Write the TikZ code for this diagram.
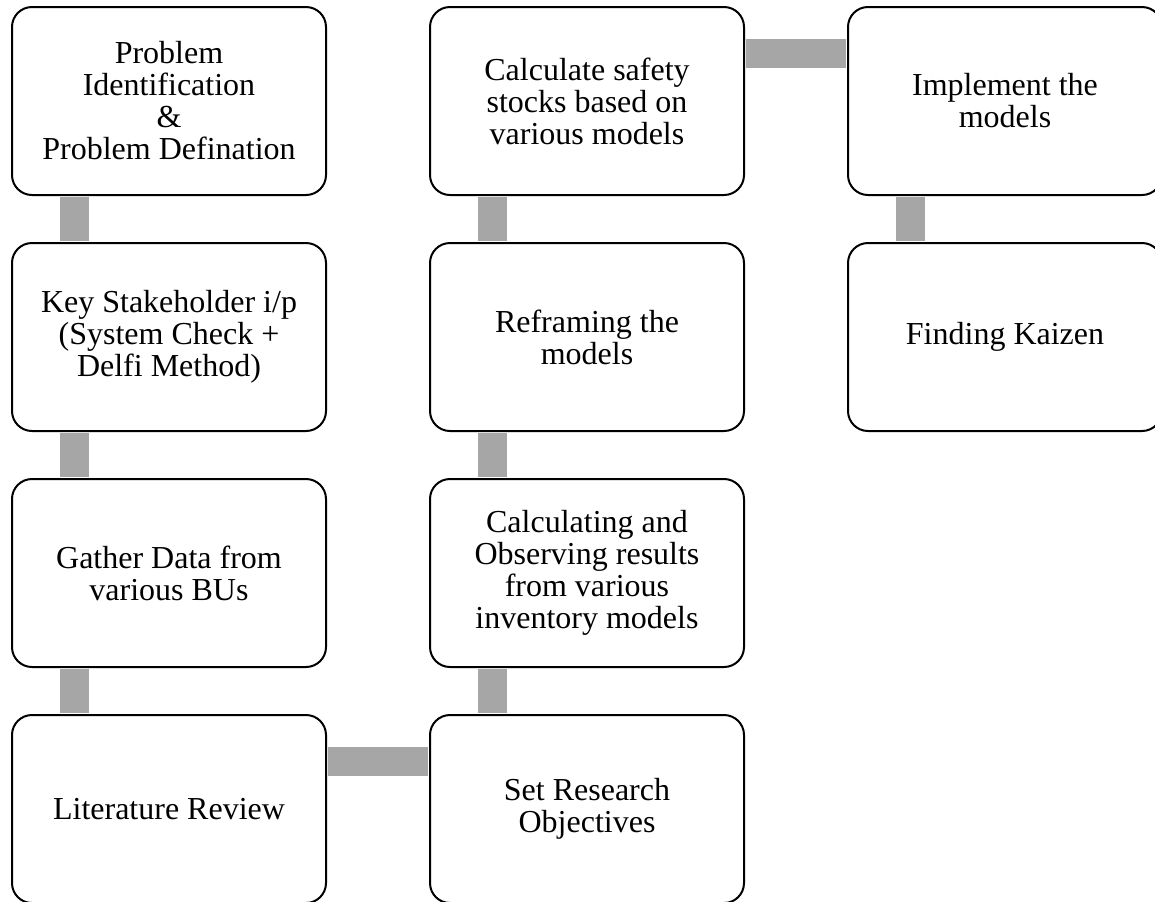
\documentclass[tikz,border=0pt]{standalone}
\usepackage{fontspec}
\setmainfont{Liberation Serif}
\usepackage{tikz}
\newcommand\pagewidth{577.5pt}
\newcommand\pageheight{450.5pt}
\newcommand\boxwidth{157pt}
\newcommand\boxheight{94pt}
\newcommand\colone{84.5pt}
\newcommand\coltwo{293.5pt}
\newcommand\colthree{502.5pt}
\newcommand\linkoffset{31.5pt}
\newcommand\linkdrop{23.5pt}
\definecolor{linkgray}{HTML}{A6A6A6}

\begin{document}
\begin{tikzpicture}[line width = 1pt,
	stepbox/.style = {draw, rounded corners = 10pt, fill = white, align = center, inner sep = 0pt,
		minimum width = \boxwidth, minimum height = \boxheight,
		font = \fontsize{16pt}{16pt}\selectfont},
	link/.style = {draw = linkgray, line width = 14.5pt, shorten > = 0.5pt, shorten < = 0.5pt}]
	\useasboundingbox (0, 0) rectangle (\pagewidth, -\pageheight);
	\clip (0, 0) rectangle (\pagewidth, -\pageheight);

	% Spalte 1
	\node [stepbox] (problem) at (\colone, -50.5pt) {Problem\\Identification\\\&\\Problem Defination};
	\node [stepbox] (stakeholder) at (\colone, -168.5pt) {Key Stakeholder i/p\\(System Check +\\Delfi Method)};
	\node [stepbox] (gather) at (\colone, -286.5pt) {Gather Data from\\various BUs};
	\node [stepbox] (literature) at (\colone, -404.5pt) {Literature Review};

	% Spalte 2
	\node [stepbox] (objectives) at (\coltwo, -404.5pt) {Set Research\\Objectives};
	\node [stepbox] (observing) at (\coltwo, -286.5pt) {Calculating and\\Observing results\\from various\\inventory models};
	\node [stepbox] (reframing) at (\coltwo, -168.5pt) {Reframing the\\models};
	\node [stepbox] (safety) at (\coltwo, -50.5pt) {Calculate safety\\stocks based on\\various models};

	% Spalte 3
	\node [stepbox] (implement) at (\colthree, -50.5pt) {Implement the\\models};
	\node [stepbox] (kaizen) at (\colthree, -168.5pt) {Finding Kaizen};

	% Verbindungen
	\foreach \a/\b in {problem/stakeholder, stakeholder/gather, gather/literature,
		observing/objectives, reframing/observing, safety/reframing, implement/kaizen} {
		\draw [link] ([xshift = \linkoffset]\a.south west) -- ([xshift = \linkoffset]\b.north west);
	}
	\foreach \a/\b in {literature/objectives, safety/implement} {
		\draw [link] ([yshift = -\linkdrop]\a.north east) -- ([yshift = -\linkdrop]\b.north west);
	}
\end{tikzpicture}
\end{document}
